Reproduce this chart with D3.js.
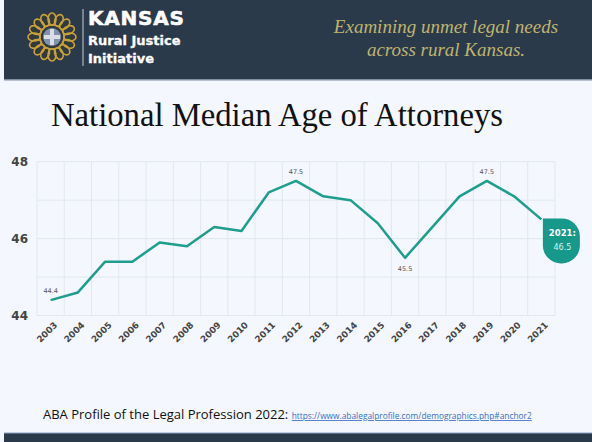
<!DOCTYPE html>
<html><head><meta charset="utf-8">
<script src="https://cdn.jsdelivr.net/npm/d3@7"></script>
<style>
html,body{margin:0;padding:0;background:#f4f7fd;}
svg{display:block;}
</style></head>
<body>
<svg id="c" width="592" height="442"></svg>
<script>
const years = ["2003","2004","2005","2006","2007","2008","2009","2010","2011","2012","2013","2014","2015","2016","2017","2018","2019","2020","2021"];
const medianAge = [44.4,44.6,45.4,45.4,45.9,45.8,46.3,46.2,47.2,47.5,47.1,47.0,46.4,45.5,46.3,47.1,47.5,47.1,46.5];
const yTicks = [44,46,48];
const labeledYears = ["2003","2012","2016","2019"];
const labelBelow = ["2016"];
const titleText = "National Median Age of Attorneys";
const sourceText = "ABA Profile of the Legal Profession 2022:";
const sourceLink = "https://www.abalegalprofile.com/demographics.php#anchor2";

const svg = d3.select("#c");
const W = 592, H = 442;
svg.append("rect").attr("width",W).attr("height",H).attr("fill","#f4f7fd");

// header
const hdr = svg.append("g");
hdr.append("rect").attr("x",4).attr("y",0).attr("width",W-4).attr("height",80).attr("fill","#2b3a4b");
hdr.append("rect").attr("x",4).attr("y",79).attr("width",W-4).attr("height",1.5).attr("fill","#7f8ea0");
// logo
const lg = hdr.append("g").attr("transform","translate(52,37)");
lg.append("circle").attr("r",24).attr("fill","#3a3a30").attr("opacity",0.5);
d3.range(16).forEach(i=>{
  const a = i*360/16;
  lg.append("ellipse").attr("cx",0).attr("cy",-18).attr("rx",4).attr("ry",6)
    .attr("fill","none").attr("stroke","#c9a23c").attr("stroke-width",1.6)
    .attr("transform",`rotate(${a})`);
});
lg.append("circle").attr("r",12).attr("fill","none").attr("stroke","#c9a23c").attr("stroke-width",1.5);
lg.append("circle").attr("r",9).attr("fill","#8090b0");
lg.append("path").attr("d","M-2,-8 L2,-8 L2,-2 L8,-2 L8,2 L2,2 L2,8 L-2,8 L-2,2 L-8,2 L-8,-2 L-2,-2 Z").attr("fill","#d8dde6");
hdr.append("line").attr("x1",83).attr("x2",83).attr("y1",9).attr("y2",66).attr("stroke","#c8ccd4").attr("stroke-width",1);
hdr.append("text").attr("x",88).attr("y",25).attr("fill","#ffffff").attr("font-family","'DejaVu Sans', sans-serif").attr("font-weight","bold").attr("font-size",20).attr("letter-spacing",0.8).attr("stroke","#ffffff").attr("stroke-width",0.6).text("KANSAS");
hdr.append("text").attr("x",88).attr("y",45).attr("fill","#ffffff").attr("font-family","'DejaVu Sans', sans-serif").attr("font-weight","bold").attr("font-size",13).attr("stroke","#ffffff").attr("stroke-width",0.3).text("Rural Justice");
hdr.append("text").attr("x",88).attr("y",63).attr("fill","#ffffff").attr("font-family","'DejaVu Sans', sans-serif").attr("font-weight","bold").attr("font-size",13).attr("stroke","#ffffff").attr("stroke-width",0.3).text("Initiative");
hdr.append("text").attr("x",446).attr("y",33).attr("text-anchor","middle").attr("fill","#bfb46e").attr("font-family","'Liberation Serif', serif").attr("font-style","italic").attr("font-size",19).text("Examining unmet legal needs");
hdr.append("text").attr("x",446).attr("y",56).attr("text-anchor","middle").attr("fill","#bfb46e").attr("font-family","'Liberation Serif', serif").attr("font-style","italic").attr("font-size",19).text("across rural Kansas.");

// title
svg.append("text").attr("x",277).attr("y",126).attr("text-anchor","middle").attr("fill","#111").attr("font-family","'Liberation Serif', 'Times New Roman', serif").attr("font-size",32.7).text(titleText);

// chart
const x = d3.scaleBand().domain(years).range([37,555]).padding(0);
const y = d3.scaleLinear().domain([44,48]).range([315.5,161.7]);
const cx = d => x(d) + x.bandwidth()/2;

const g = svg.append("g");
// grid
g.selectAll(".hg").data(d3.range(44,48.01,1)).join("line")
  .attr("x1",37).attr("x2",555).attr("y1",d=>y(d)).attr("y2",d=>y(d))
  .attr("stroke","#e2e7f1").attr("stroke-width",1);
const vgx = years.map(d=>x(d)).concat([x(years[years.length-1])+x.bandwidth()]);
g.selectAll(".vg").data(vgx).join("line")
  .attr("x1",d=>d).attr("x2",d=>d).attr("y1",y(48)).attr("y2",y(44))
  .attr("stroke","#e2e7f1").attr("stroke-width",1);

// y axis labels
const yAxis = d3.axisLeft(y).tickValues(yTicks).tickSize(0).tickPadding(0).tickFormat(d3.format("d"));
const ya = g.append("g").attr("transform","translate(28,0)").call(yAxis);
ya.select(".domain").remove();
ya.selectAll("text").attr("font-family","'DejaVu Sans', sans-serif").attr("font-weight","bold").attr("font-size",12).attr("fill","#444").attr("dy","0.35em");

// x axis labels
const xAxis = d3.axisBottom(x).tickSize(0).tickPadding(0);
const xa = g.append("g").attr("transform",`translate(0,${y(44)+8})`).call(xAxis);
xa.select(".domain").remove();
xa.selectAll("text").attr("font-family","'DejaVu Sans', sans-serif").attr("font-weight","bold").attr("font-size",8.8).attr("fill","#444")
  .attr("text-anchor","end").attr("dy","0.35em").attr("transform","translate(5,0) rotate(-45)");

// line
const line = d3.line().x((d,i)=>cx(years[i])).y(d=>y(d));
g.append("path").datum(medianAge).attr("d",line).attr("fill","none").attr("stroke","#1f9e8f").attr("stroke-width",2.5).attr("stroke-linejoin","round");

// point labels
labeledYears.forEach(yr=>{
  const i = years.indexOf(yr);
  const below = labelBelow.includes(yr);
  g.append("text").attr("x",cx(yr)).attr("y",y(medianAge[i]) + (below?13:-7))
    .attr("text-anchor","middle").attr("font-family","'DejaVu Sans', sans-serif").attr("font-size",6.5).attr("fill","#555")
    .text(d3.format(".1f")(medianAge[i]));
});

// callout
const li = years.length-1;
const px = cx(years[li])+1.5, py = y(medianAge[li]) - 1;
const bw = 37, bh = 45, r = 18;
const cp = d3.path();
cp.moveTo(px,py);
cp.lineTo(px+bw-r,py);
cp.arcTo(px+bw,py,px+bw,py+r,r);
cp.lineTo(px+bw,py+bh-r);
cp.arcTo(px+bw,py+bh,px+bw-r,py+bh,r);
cp.lineTo(px+r,py+bh);
cp.arcTo(px,py+bh,px,py+bh-r,r);
cp.closePath();
g.append("path").attr("d",cp.toString()).attr("fill","#16998a");
g.append("text").attr("x",px+bw/2+1).attr("y",py+18).attr("text-anchor","middle").attr("fill","#fff")
  .attr("font-family","'DejaVu Sans', sans-serif").attr("font-weight","bold").attr("font-size",8.5).text(years[li]+":");
g.append("text").attr("x",px+bw/2+1).attr("y",py+32).attr("text-anchor","middle").attr("fill","#d8f0ec")
  .attr("font-family","'DejaVu Sans', sans-serif").attr("font-size",8).text(d3.format(".1f")(medianAge[li]));

// source
const src = svg.append("text").attr("x",43).attr("y",419).attr("font-family","'Open Sans', 'Liberation Sans', sans-serif").attr("fill","#111");
src.append("tspan").attr("font-size",13).text(sourceText+" ");
src.append("tspan").attr("font-size",8.35).attr("fill","#3a6fc4").attr("text-decoration","underline").text(sourceLink);

// footer
svg.append("rect").attr("x",4).attr("y",433).attr("width",W-4).attr("height",9).attr("fill","#2b3a4b");
svg.append("rect").attr("x",4).attr("y",432.5).attr("width",W-4).attr("height",1).attr("fill","#8aa2c8");
</script>
</body></html>
